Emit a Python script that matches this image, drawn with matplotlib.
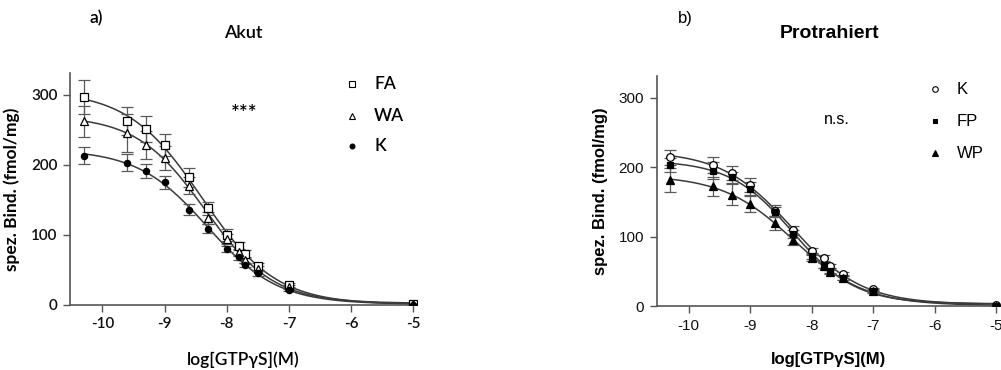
import numpy as np
import matplotlib
matplotlib.use("Agg")
import matplotlib.pyplot as plt
from matplotlib.lines import Line2D

# ---------------- data ----------------
log_conc = [-10.3, -9.6, -9.3, -9.0, -8.6, -8.3, -8.0, -7.8, -7.7, -7.5, -7.0, -5.0]

# a) Akut
akut_FA = [297, 263, 251, 228, 182, 138, 100, 84, 73, 55, 29, 1]
akut_FA_err = [24, 20, 19, 16, 13, 9, 8, 6, 6, 5, 3, 1]
akut_WA = [262, 245, 228, 210, 170, 124, 94, 75, 64, 52, 26, 1]
akut_WA_err = [22, 27, 20, 17, 12, 8, 7, 5, 4, 4, 3, 1]
akut_K = [213, 203, 191, 175, 136, 109, 80, 68, 57, 45, 22, 0]
akut_K_err = [12, 12, 10, 9, 8, 6, 4, 4, 3, 3, 2, 1]

# b) Protrahiert
prot_K = [214, 203, 191, 174, 137, 109, 79, 69, 58, 46, 24, 1]
prot_K_err = [11, 12, 10, 10, 8, 6, 4, 4, 3, 3, 2, 1]
prot_FP = [203, 195, 185, 169, 135, 104, 72, 59, 51, 41, 22, 0]
prot_FP_err = [10, 12, 8, 9, 7, 6, 4, 4, 3, 3, 2, 1]
prot_WP = [181, 172, 160, 147, 119, 95, 69, 58, 49, 40, 21, 0]
prot_WP_err = [17, 14, 15, 12, 10, 7, 4, 4, 3, 3, 2, 1]

x_ticks = [-10, -9, -8, -7, -6, -5]
y_ticks = [0, 100, 200, 300]
labels_a = ["FA", "WA", "K"]
labels_b = ["K", "FP", "WP"]


def fit_curve(x, y):
    """Least-squares sigmoidal (variable slope) fit; grid over logIC50 & slope,
    linear solve for top/bottom."""
    x = np.asarray(x, float)
    y = np.asarray(y, float)
    best = None
    for c in np.arange(-9.5, -7.0, 0.01):
        for h in np.arange(0.4, 1.6, 0.01):
            f = 1.0 / (1.0 + 10 ** ((x - c) * h))
            A = np.column_stack([f, 1 - f])
            coef, *_ = np.linalg.lstsq(A, y, rcond=None)
            r = np.sum((A @ coef - y) ** 2)
            if best is None or r < best[0]:
                best = (r, c, h, coef)
    _, c, h, (top, bot) = best
    return lambda xx: bot + (top - bot) / (1.0 + 10 ** ((xx - c) * h))


W, H = 1001, 370
fig = plt.figure(figsize=(W / 100, H / 100), dpi=100)

line_c = "#3a3a3a"
err_c = "#5a5a5a"
spine_c = "#555555"

ax1 = fig.add_axes([70 / W, 1 - 305 / H, (417 - 70) / W, (305 - 73) / H])
ax2 = fig.add_axes([656.7 / W, 1 - 306 / H, (1000 - 656.7) / W, (306 - 76) / H])

xx = np.linspace(-10.3, -5.0, 400)


def draw(ax, series, font, weight):
    for vals, errs, mk, mfc, ms in series:
        f = fit_curve(log_conc, vals)
        ax.plot(xx, f(xx), color=line_c, lw=1.1, zorder=2)
        ax.errorbar(log_conc, vals, yerr=errs, fmt="none", ecolor=err_c,
                    elinewidth=0.9, capsize=4, capthick=0.9, zorder=3)
        ax.plot(log_conc, vals, linestyle="none", marker=mk, mfc=mfc,
                mec="black", mew=0.9, ms=ms, zorder=4)
    ax.set_xlim(-10.52, -4.94)
    ax.set_ylim(0, 331)
    ax.set_xticks(x_ticks)
    ax.set_yticks(y_ticks)
    ax.set_xticklabels([f"{t}" for t in x_ticks], family=font, fontsize=11,
                       fontweight=weight)
    ax.set_yticklabels([f"{t}" for t in y_ticks], family=font, fontsize=11,
                       fontweight=weight)
    for s in ["top", "right"]:
        ax.spines[s].set_visible(False)
    for s in ["left", "bottom"]:
        ax.spines[s].set_color(spine_c)
        ax.spines[s].set_linewidth(1.2)
    ax.tick_params(color=spine_c, length=5, width=1.0, pad=4, labelcolor="#111111")
    ax.patch.set_alpha(0)


fontA = ["Lato", "DejaVu Sans"]
fontB = ["Liberation Sans", "DejaVu Sans"]
wA = "semibold"

draw(ax1, [
    (akut_FA, akut_FA_err, "s", "white", 5.5),
    (akut_WA, akut_WA_err, "^", "white", 6),
    (akut_K, akut_K_err, "o", "black", 4.5),
], fontA, wA)

draw(ax2, [
    (prot_K, prot_K_err, "o", "white", 5.5),
    (prot_FP, prot_FP_err, "s", "black", 5),
    (prot_WP, prot_WP_err, "^", "black", 5.5),
], fontB, "normal")

ax1.set_xlabel("log[GTP\u03b3S](M)", family=fontA, fontsize=12.5, fontweight=wA, labelpad=14)
ax1.set_ylabel("spez. Bind. (fmol/mg)", family=fontA, fontsize=12.5, fontweight="bold", labelpad=8)
ax2.set_xlabel("log[GTP\u03b3S](M)", family=fontB, fontsize=12, fontweight="bold", labelpad=14)
ax2.set_ylabel("spez. Bind. (fmol/mg)", family=fontB, fontsize=12, fontweight="bold", labelpad=8)

# titles and panel letters
fig.text(96 / W, 1 - 18 / H, "a)", family=fontA, fontsize=12.5, fontweight=wA,
         ha="center", va="center")
fig.text(243 / W, 1 - 33 / H, "Akut", family=fontA, fontsize=13, fontweight=wA,
         ha="center", va="center")
fig.text(685 / W, 1 - 18 / H, "b)", family=fontB, fontsize=12, ha="center", va="center")
fig.text(830 / W, 1 - 33 / H, "Protrahiert", family=fontB, fontsize=14, fontweight="bold",
         ha="center", va="center")

fig.text(244 / W, 1 - 114 / H, "***", family=fontA, fontsize=15, fontweight=wA,
         ha="center", va="center")
fig.text(837 / W, 1 - 120 / H, "n.s.", family=fontB, fontsize=11.5, ha="center", va="center")

# legends (manual)
leg_a = [("s", "white", 4), ("^", "white", 4.5), ("o", "black", 3.5)]
for (mk, fc, ms), lab, yy in zip(leg_a, labels_a, [84, 116, 146]):
    fig.add_artist(Line2D([352 / W], [1 - yy / H], marker=mk, mfc=fc, mec="black",
                          mew=0.8, ms=ms, linestyle="none"))
    fig.text(374 / W, 1 - yy / H, lab, family=fontA, fontsize=12.5, fontweight=wA,
             va="center", ha="left")

leg_b = [("o", "white", 4), ("s", "black", 3.5), ("^", "black", 4)]
for (mk, fc, ms), lab, yy in zip(leg_b, labels_b, [89, 121, 153]):
    fig.add_artist(Line2D([935 / W], [1 - yy / H], marker=mk, mfc=fc, mec="black",
                          mew=0.8, ms=ms, linestyle="none"))
    fig.text(957 / W, 1 - yy / H, lab, family=fontB, fontsize=12, va="center", ha="left")

fig.savefig("out.png", dpi=100)
